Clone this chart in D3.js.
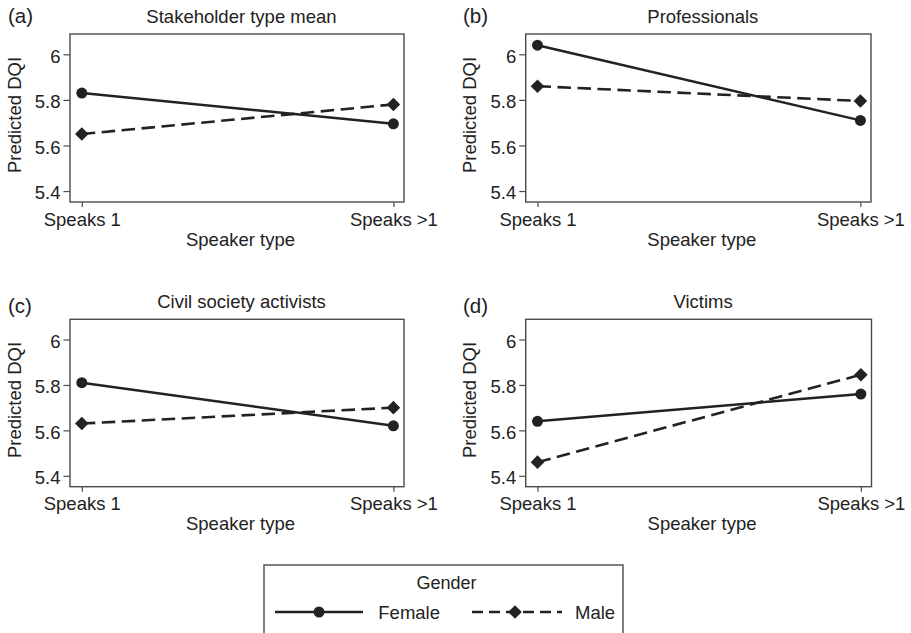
<!DOCTYPE html>
<html><head><meta charset="utf-8">
<script src="https://cdnjs.cloudflare.com/ajax/libs/d3/7.8.5/d3.min.js"></script>
<style>
html,body{margin:0;padding:0;background:#fff;}
svg{display:block;font-family:"Liberation Sans",Arial,Helvetica,sans-serif;}
</style></head>
<body>
<script>
// ---- data ----
const categories = ["Speaks 1", "Speaks >1"];
const panelTitles = ["Stakeholder type mean", "Professionals", "Civil society activists", "Victims"];
const panelLetters = ["(a)", "(b)", "(c)", "(d)"];
const femaleValues = [[5.83, 5.695], [6.04, 5.71], [5.81, 5.62], [5.64, 5.76]];
const maleValues = [[5.65, 5.78], [5.86, 5.795], [5.63, 5.70], [5.46, 5.845]];
const yTicks = [5.4, 5.6, 5.8, 6];
const yDomain = [5.352, 6.089];
const seriesNames = ["Female", "Male"];
const legendTitle = "Gender";
const xTitle = "Speaker type";
const yTitle = "Predicted DQI";

// ---- layout ----
const W = 911, H = 633;
const FS = 18.5;
const frames = [
  {x0: 70, x1: 404, y0: 34, y1: 202, ox: 0, oy: 0},
  {x0: 525.7, x1: 871, y0: 34, y1: 202, ox: 455, oy: 0},
  {x0: 70, x1: 404, y0: 319.3, y1: 486.7, ox: 0, oy: 290},
  {x0: 525.7, x1: 871.5, y0: 319.3, y1: 486.7, ox: 455, oy: 290}
];
const ink = "#222";
const svg = d3.select("body").append("svg").attr("width", W).attr("height", H);

const circleSym = d3.symbol().type(d3.symbolCircle).size(Math.PI * 5.5 * 5.5);
const diamondPath = r => `M0,${-r}L${r},0L0,${r}L${-r},0Z`;

frames.forEach((f, i) => {
  const g = svg.append("g");
  const x = d3.scalePoint().domain(categories).range([f.x0 + 11.8, f.x1 - 10.6]);
  const y = d3.scaleLinear().domain(yDomain).range([f.y1, f.y0]);

  // frame
  g.append("rect").attr("x", f.x0).attr("y", f.y0).attr("width", f.x1 - f.x0).attr("height", f.y1 - f.y0)
    .attr("fill", "none").attr("stroke", "#4a4a4a").attr("stroke-width", 1.4);

  // y axis
  const ya = g.append("g").attr("transform", `translate(${f.x0},0)`)
    .call(d3.axisLeft(y).tickValues(yTicks).tickFormat(d => d === 6 ? "6" : d3.format(".1f")(d)).tickSize(6.5).tickPadding(3));
  ya.select(".domain").remove();
  ya.selectAll("line").attr("stroke", "#4a4a4a").attr("stroke-width", 1.2);
  ya.selectAll("text").attr("fill", ink).attr("font-size", FS).attr("dy", "0.42em")
    .attr("font-family", "Liberation Sans, Arial, sans-serif");

  // x axis
  const xa = g.append("g").attr("transform", `translate(0,${f.y1})`)
    .call(d3.axisBottom(x).tickSize(5).tickPadding(5.6));
  xa.select(".domain").remove();
  xa.selectAll("line").attr("stroke", "#4a4a4a").attr("stroke-width", 1.2);
  xa.selectAll("text").attr("fill", ink).attr("font-size", FS).attr("font-family", "Liberation Sans, Arial, sans-serif");

  // titles
  g.append("text").attr("x", (f.x0 + f.x1) / 2 + 3.5).attr("y", f.y1 + 43.7).attr("text-anchor", "middle")
    .attr("font-size", FS).attr("fill", ink).text(xTitle);
  g.append("text").attr("transform", `translate(${f.ox + 20.5},${(f.y0 + f.y1) / 2 - 3}) rotate(-90)`)
    .attr("text-anchor", "middle").attr("font-size", FS).attr("fill", ink).text(yTitle);
  g.append("text").attr("x", (f.x0 + f.x1) / 2 + 4.5).attr("y", f.y0 - 11.5).attr("text-anchor", "middle")
    .attr("font-size", FS).attr("fill", ink).text(panelTitles[i]);
  g.append("text").attr("x", f.ox + 8).attr("y", f.oy + 22.5).attr("font-size", 20.5).attr("fill", ink).text(panelLetters[i]);

  const line = d3.line().x((d, j) => x(categories[j])).y(d => y(d));
  // male dashed
  g.append("path").attr("d", line(maleValues[i])).attr("fill", "none").attr("stroke", ink)
    .attr("stroke-width", 2.6).attr("stroke-dasharray", "13.5,6.5");
  // female solid
  g.append("path").attr("d", line(femaleValues[i])).attr("fill", "none").attr("stroke", ink)
    .attr("stroke-width", 2.5);
  g.selectAll(".f").data(femaleValues[i]).join("path")
    .attr("transform", (d, j) => `translate(${x(categories[j])},${y(d)})`).attr("d", circleSym).attr("fill", ink);
  g.selectAll(".m").data(maleValues[i]).join("path")
    .attr("transform", (d, j) => `translate(${x(categories[j])},${y(d)})`).attr("d", diamondPath(6.8)).attr("fill", ink);
});

// ---- legend ----
const lg = svg.append("g");
lg.append("rect").attr("x", 264).attr("y", 565).attr("width", 359).attr("height", 90)
  .attr("fill", "none").attr("stroke", "#4a4a4a").attr("stroke-width", 1.4);
lg.append("text").attr("x", 446.5).attr("y", 589.3).attr("text-anchor", "middle").attr("font-size", 18).attr("fill", ink).text(legendTitle);
const ly = 612;
lg.append("line").attr("x1", 275).attr("x2", 363).attr("y1", ly).attr("y2", ly).attr("stroke", ink).attr("stroke-width", 2.6);
lg.append("path").attr("transform", `translate(319,${ly})`).attr("d", circleSym).attr("fill", ink);
lg.append("text").attr("x", 378.3).attr("y", 619).attr("font-size", FS).attr("fill", ink).text(seriesNames[0]);
lg.append("line").attr("x1", 472).attr("x2", 562).attr("y1", ly).attr("y2", ly).attr("stroke", ink).attr("stroke-width", 2.6)
  .attr("stroke-dasharray", "11,6");
lg.append("path").attr("transform", `translate(515,${ly})`).attr("d", diamondPath(6.8)).attr("fill", ink);
lg.append("text").attr("x", 575).attr("y", 619).attr("font-size", FS).attr("fill", ink).text(seriesNames[1]);
</script>
</body></html>
